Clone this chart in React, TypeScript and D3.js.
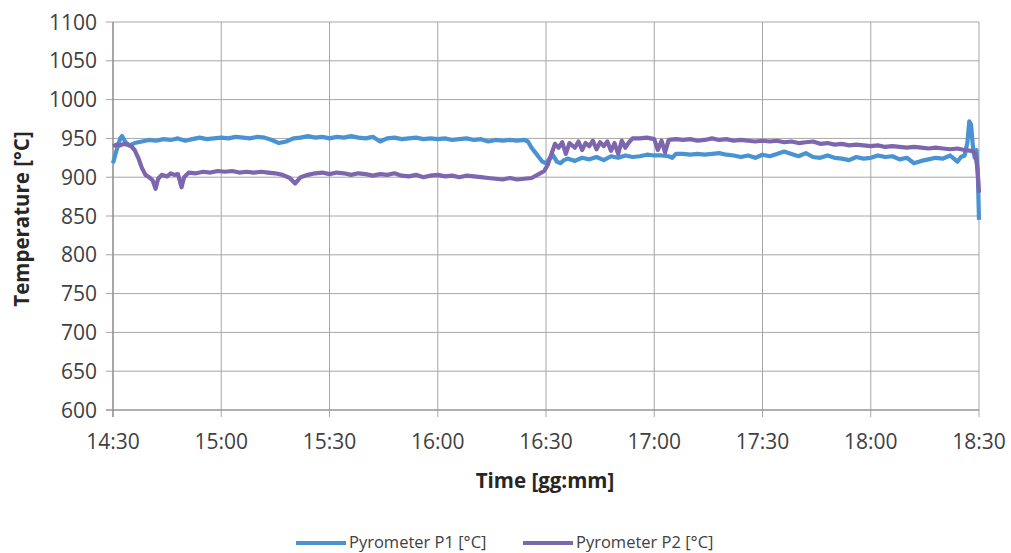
import * as d3 from "d3";
import React from "react";

// minutes after 14:30 and readings in °C
const p1Minutes = [0, 1, 2, 2.5, 3.5, 4.5, 6, 8, 10, 12, 14, 16, 18, 20, 22, 24, 26, 28, 30, 32, 34, 36, 38, 40, 42, 44, 46, 48, 50, 52, 54, 56, 58, 60, 62, 64, 66, 68, 70, 72, 74, 76, 78, 80, 82, 84, 86, 88, 90, 92, 94, 96, 98, 100, 102, 104, 106, 108, 110, 112, 114, 115, 116, 117, 118, 119, 120, 121, 122, 123, 124, 125, 126, 128, 130, 132, 134, 136, 138, 140, 142, 144, 146, 148, 150, 152, 154, 155, 156, 158, 160, 162, 164, 166, 168, 170, 172, 174, 176, 178, 180, 182, 184, 186, 188, 190, 192, 194, 196, 198, 200, 202, 204, 206, 208, 210, 212, 214, 216, 218, 220, 222, 224, 226, 228, 230, 232, 234, 235, 236, 236.8, 237.3, 237.8, 238.3, 238.8, 239.3, 239.7, 240];
const p1Values = [918, 935, 950, 953, 945, 941, 944, 946, 948, 947, 949, 948, 950, 947, 949, 951, 949, 950, 951, 950, 952, 951, 950, 952, 951, 948, 944, 946, 950, 951, 953, 951, 952, 950, 952, 951, 953, 951, 950, 952, 946, 950, 951, 949, 950, 951, 949, 950, 949, 950, 948, 949, 950, 948, 949, 946, 948, 947, 948, 947, 948, 946, 938, 932, 926, 920, 918, 924, 928, 920, 918, 922, 924, 921, 925, 923, 926, 922, 927, 925, 928, 926, 927, 929, 928, 928, 927, 925, 930, 930, 929, 930, 929, 930, 931, 929, 928, 926, 928, 925, 929, 927, 930, 933, 930, 927, 931, 926, 925, 928, 925, 924, 922, 926, 924, 925, 928, 926, 927, 923, 925, 918, 921, 923, 925, 924, 928, 920, 926, 928, 945, 972, 968, 940, 925, 935, 900, 845];

const p2Minutes = [0, 1, 2, 3, 4, 5, 6, 7, 8, 9, 10, 11, 11.8, 12.5, 13.5, 15, 16, 17, 18, 19, 19.7, 21, 23, 25, 27, 29, 31, 33, 35, 37, 39, 41, 43, 45, 47, 49, 50.5, 52, 54, 56, 58, 60, 62, 64, 66, 68, 70, 72, 74, 76, 78, 80, 82, 84, 86, 88, 90, 92, 94, 96, 98, 100, 102, 104, 106, 108, 110, 112, 114, 116, 118, 119.5, 120.5, 121.5, 122.5, 123.5, 124.5, 125.5, 126.5, 128, 129, 130, 131, 132, 133, 134, 135, 136, 137, 138, 139, 140, 141, 142, 143, 144, 146, 148, 150, 151, 152, 153, 154, 156, 158, 160, 162, 164, 166, 168, 170, 172, 174, 176, 178, 180, 182, 184, 186, 188, 190, 192, 194, 196, 198, 200, 202, 204, 206, 208, 210, 212, 214, 216, 218, 220, 222, 224, 226, 228, 230, 232, 234, 236, 238, 239, 239.6, 240];
const p2Values = [940, 942, 941, 943, 942, 940, 935, 925, 912, 903, 900, 896, 885, 898, 903, 901, 905, 903, 904, 887, 900, 906, 905, 907, 906, 908, 907, 908, 906, 907, 906, 907, 906, 905, 903, 899, 892, 900, 903, 905, 906, 904, 906, 905, 903, 905, 904, 902, 904, 903, 905, 902, 901, 903, 900, 902, 903, 901, 902, 900, 902, 901, 900, 899, 898, 897, 899, 897, 898, 899, 904, 908, 916, 930, 943, 938, 945, 930, 944, 938, 946, 935, 944, 940, 947, 936, 945, 940, 946, 934, 944, 930, 947, 938, 945, 950, 950, 951, 949, 935, 947, 932, 948, 949, 948, 949, 947, 948, 950, 948, 949, 947, 948, 947, 946, 947, 946, 947, 945, 946, 944, 945, 946, 943, 944, 942, 943, 941, 942, 941, 940, 941, 939, 940, 939, 938, 939, 938, 937, 938, 937, 936, 937, 935, 934, 930, 910, 880];

const xTickLabels = ["14:30", "15:00", "15:30", "16:00", "16:30", "17:00", "17:30", "18:00", "18:30"];
const yTicks = [600, 650, 700, 750, 800, 850, 900, 950, 1000, 1050, 1100];

const seriesNames = ["Pyrometer P1 [°C]", "Pyrometer P2 [°C]"];
const seriesColors = ["#4a93d2", "#7d66ae"];

const W = 1011;
const H = 553;
const left = 113;
const right = 979;
const top = 22;
const bottom = 410;
const font = "'Open Sans', 'Noto Sans', sans-serif";

export default function App() {
  const x = d3.scaleLinear().domain([0, 240]).range([left, right]);
  const y = d3.scaleLinear().domain([600, 1100]).range([bottom, top]);

  const line = d3
    .line<[number, number]>()
    .x((d) => x(d[0]))
    .y((d) => y(d[1]));

  const series = [
    p1Minutes.map((m, i) => [m, p1Values[i]] as [number, number]),
    p2Minutes.map((m, i) => [m, p2Values[i]] as [number, number]),
  ];

  return (
    <svg width={W} height={H} style={{ position: "absolute", left: 0, top: 0, background: "#fff" }}>
      {/* grid */}
      {yTicks.map((v) => (
        <line key={"gy" + v} x1={left - 7} x2={right} y1={y(v)} y2={y(v)} stroke="#a6a6a6" strokeWidth={1} />
      ))}
      {xTickLabels.map((lab, i) => (
        <line key={"gx" + lab} x1={x(i * 30)} x2={x(i * 30)} y1={top} y2={bottom + 7} stroke="#a6a6a6" strokeWidth={1} />
      ))}
      <line x1={left} x2={left} y1={top} y2={bottom + 7} stroke="#8c8c8c" strokeWidth={1.2} />
      <line x1={left - 7} x2={right} y1={bottom} y2={bottom} stroke="#8c8c8c" strokeWidth={1.2} />

      {/* tick labels */}
      {yTicks.map((v) => (
        <text key={"ty" + v} x={97} y={y(v)} dy="0.36em" textAnchor="end" fontFamily={font} fontSize={21} fill="#404040">
          {v}
        </text>
      ))}
      {xTickLabels.map((lab, i) => (
        <text key={"tx" + lab} x={x(i * 30)} y={441} dy="0.36em" textAnchor="middle" fontFamily={font} fontSize={21} fill="#404040">
          {lab}
        </text>
      ))}

      {/* data */}
      {series.map((s, i) => (
        <path key={"s" + i} d={line(s) || ""} fill="none" stroke={seriesColors[i]} strokeWidth={4.2} strokeLinejoin="round" />
      ))}

      {/* axis titles */}
      <text transform="translate(22,219) rotate(-90)" textAnchor="middle" dy="0.36em" fontFamily={font} fontSize={20.5} fontWeight="bold" fill="#262626">
        Temperature [°C]
      </text>
      <text x={545} y={481} dy="0.36em" textAnchor="middle" fontFamily={font} fontSize={20.5} fontWeight="bold" fill="#262626">
        Time [gg:mm]
      </text>

      {/* legend */}
      {seriesNames.map((name, i) => {
        const lx = i === 0 ? 296 : 523;
        return (
          <g key={"lg" + i}>
            <line x1={lx} x2={lx + 50} y1={543} y2={543} stroke={seriesColors[i]} strokeWidth={4} />
            <text x={lx + 53} y={542} dy="0.36em" fontFamily={font} fontSize={16.5} fill="#404040">
              {name}
            </text>
          </g>
        );
      })}
    </svg>
  );
}
